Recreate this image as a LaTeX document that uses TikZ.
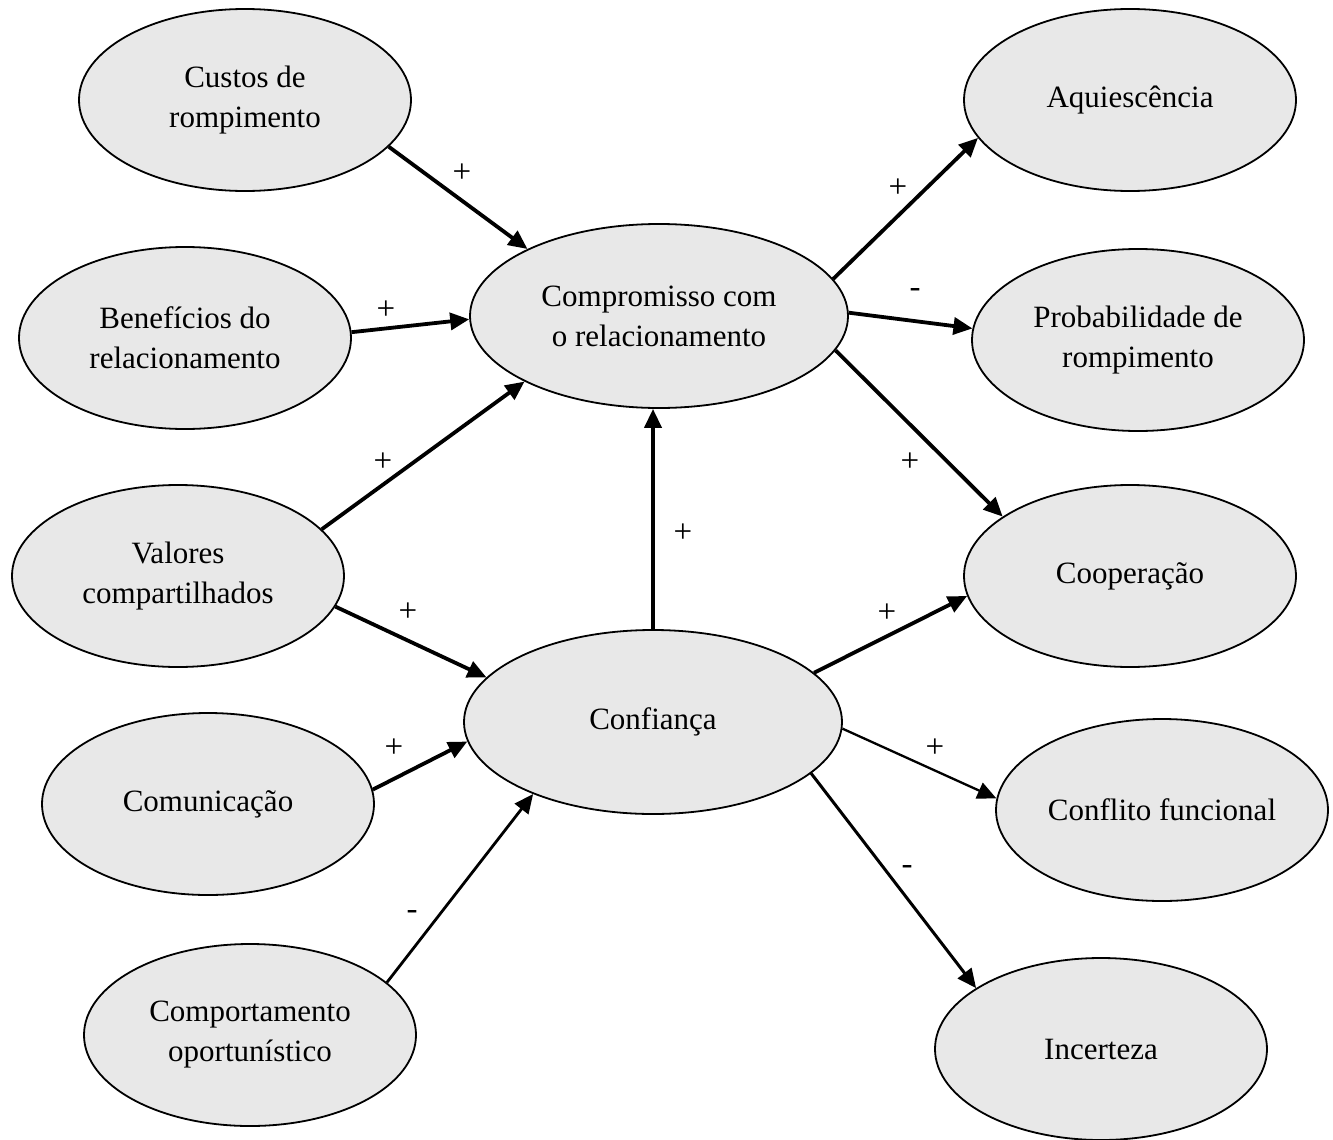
\documentclass[tikz,border=0pt]{standalone}
\usepackage{fontspec}
\setmainfont{Liberation Serif}
\usetikzlibrary{shapes.geometric,arrows.meta}
\definecolor{ovalgray}{RGB}{232,232,232}
\tikzset{
  oval/.style={ellipse, draw=black, fill=ovalgray, line width=1.8pt, inner sep=0pt,
               align=center, font=\fontsize{31}{40}\selectfont},
  smoval/.style={oval, minimum width=332pt, minimum height=182pt},
  bigoval/.style={oval, minimum width=378pt, minimum height=184pt},
  arr/.style={-{Triangle[length=19pt,width=17pt]}, line width=3.8pt},
  thinarr/.style={arr, line width=2.8pt},
  sign/.style={font=\fontsize{33}{36}\selectfont, inner sep=0pt}
}
\begin{document}
\begin{tikzpicture}[x=1pt,y=-1pt]
\useasboundingbox (0,0) rectangle (1333,1140);
% left column
\node[smoval] (custos) at (245,100) {Custos de\\rompimento};
\node[smoval] (benef) at (185,338) {Benefícios do\\relacionamento};
\node[smoval] (valores) at (178,576) {Valores\\compartilhados};
\node[smoval] (comun) at (208,804) {Comunicação};
\node[smoval] (comport) at (250,1035) {Comportamento\\oportunístico};
% centre
\node[bigoval] (comp) at (659,316) {Compromisso com\\o relacionamento};
\node[bigoval] (conf) at (653,722) {Confiança};
% right column
\node[smoval] (aqui) at (1130,100) {Aquiescência};
\node[smoval] (prob) at (1138,340) {Probabilidade de\\rompimento};
\node[smoval] (coop) at (1130,576) {Cooperação};
\node[smoval] (confl) at (1162,810) {Conflito funcional};
\node[smoval] (incert) at (1101,1049) {Incerteza};
% connectors
\draw[arr] (custos.-18) -- (comp.153);
\draw[arr] (benef.2) -- (comp.181);
\draw[arr] (valores.18) -- (comp.206);
\draw[arr] (valores.-11) -- (conf.165);
\draw[arr] (comun.5) -- (conf.186);
\draw[thinarr] (comport.21) -- (conf.211);
\draw[arr] (conf.north) -- (conf.north |- comp.south);
\draw[arr] (comp.12) -- (aqui.194);
\draw[arr] (comp.1) -- (prob.176);
\draw[arr] (comp.-11) -- (coop.155);
\draw[arr] (conf.17) -- (coop.187);
\draw[thinarr, line width=2.3pt] (conf.-2) -- (confl.176);
\draw[thinarr, line width=3pt] (conf.-18) -- (incert.154);
% signs
\node[sign] (s1) at (462,173) {+};
\node[sign] (s2) at (386,310) {+};
\node[sign] (s3) at (383,462) {+};
\node[sign] (s4) at (408,612) {+};
\node[sign] (s5) at (394,748) {+};
\node[sign] (s6) at (412,915) {-};
\node[sign] (s7) at (683,533) {+};
\node[sign] (s8) at (898,188) {+};
\node[sign] (s9) at (915,293) {-};
\node[sign] (s10) at (910,462) {+};
\node[sign] (s11) at (887,613) {+};
\node[sign] (s12) at (935,748) {+};
\node[sign] (s13) at (907,870) {-};
\end{tikzpicture}
\end{document}
